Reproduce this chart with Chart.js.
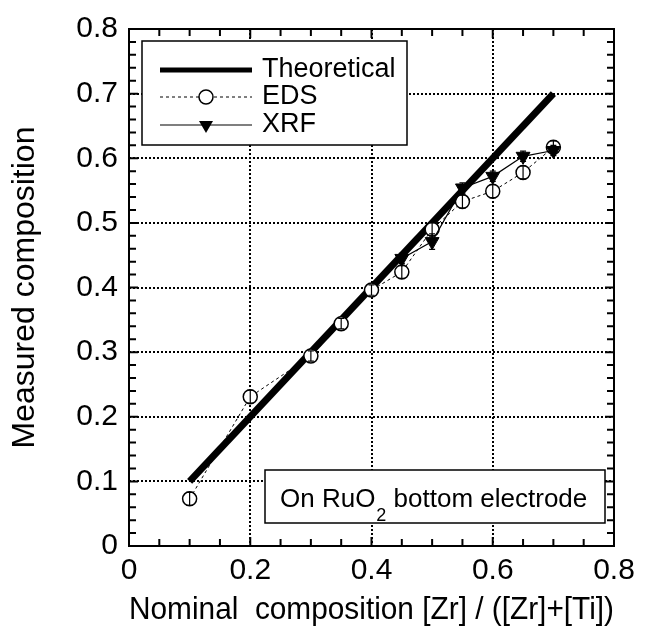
<!DOCTYPE html>
<html>
<head>
<meta charset="utf-8">
<script src="https://cdn.jsdelivr.net/npm/chart.js@4.4.1/dist/chart.umd.min.js"></script>
<style>
  html, body { margin: 0; padding: 0; background: #fff; }
</style>
</head>
<body>
<canvas id="comp-chart" width="649" height="626"></canvas>
<script>
// 公称組成 (x) と測定組成 (y)
const edsX = [0.1, 0.2, 0.3, 0.35, 0.4, 0.45, 0.5, 0.55, 0.6, 0.65, 0.7];
const edsY = [0.073, 0.231, 0.294, 0.344, 0.396, 0.424, 0.490, 0.533, 0.549, 0.578, 0.617];
const edsErr = [0.010, 0.010, 0.008, 0.008, 0.008, 0.010, 0.010, 0.010, 0.010, 0.010, 0.010];

const xrfX = [0.45, 0.5, 0.55, 0.6, 0.65, 0.7];
const xrfY = [0.445, 0.471, 0.554, 0.572, 0.603, 0.612];
const xrfErr = [0.008, 0.012, 0.008, 0.008, 0.008, 0.008];

const theoryX = [0.1, 0.7];
const theoryY = [0.1, 0.7];

const xTickValues = [0, 0.2, 0.4, 0.6, 0.8];
const xTickLabels = ['0', '0.2', '0.4', '0.6', '0.8'];
const yTickValues = [0, 0.1, 0.2, 0.3, 0.4, 0.5, 0.6, 0.7, 0.8];
const yTickLabels = ['0', '0.1', '0.2', '0.3', '0.4', '0.5', '0.6', '0.7', '0.8'];

const FONT = "'Liberation Sans', Arial, sans-serif";

function toPoints(xs, ys) {
    return xs.map((x, i) => ({ x: x, y: ys[i] }));
}

// 背景を白で塗る
const bgPlugin = {
    id: 'bg',
    beforeDraw(chart) {
        const ctx = chart.ctx;
        ctx.save();
        ctx.fillStyle = '#fff';
        ctx.fillRect(0, 0, chart.width, chart.height);
        ctx.restore();
    }
};

// 誤差棒
const errorBarPlugin = {
    id: 'errorBars',
    afterDatasetsDraw(chart) {
        const { ctx, scales: { x, y } } = chart;
        ctx.save();
        ctx.strokeStyle = '#000';
        ctx.lineWidth = 1.2;
        const draw = (xs, ys, errs) => {
            ctx.beginPath();
            xs.forEach((v, i) => {
                const px = x.getPixelForValue(v);
                const top = y.getPixelForValue(ys[i] + errs[i]);
                const bot = y.getPixelForValue(ys[i] - errs[i]);
                ctx.moveTo(px, top); ctx.lineTo(px, bot);
                ctx.moveTo(px - 3, top); ctx.lineTo(px + 3, top);
                ctx.moveTo(px - 3, bot); ctx.lineTo(px + 3, bot);
            });
            ctx.stroke();
        };
        draw(edsX, edsY, edsErr);
        draw(xrfX, xrfY, xrfErr);
        ctx.restore();
    }
};

// 枠線と内向きの目盛り、凡例、注記
const framePlugin = {
    id: 'frame',
    afterDraw(chart) {
        const { ctx, chartArea: a, scales: { x, y } } = chart;
        ctx.save();
        ctx.strokeStyle = '#000';
        ctx.lineWidth = 2;
        ctx.strokeRect(a.left, a.top, a.right - a.left, a.bottom - a.top);

        ctx.beginPath();
        for (let i = 0; i <= 16; i++) {
            const px = x.getPixelForValue(i * 0.05);
            const len = i % 4 === 0 ? 9 : 7;
            ctx.moveTo(px, a.bottom); ctx.lineTo(px, a.bottom - len);
            ctx.moveTo(px, a.top); ctx.lineTo(px, a.top + len);
        }
        for (let i = 0; i <= 40; i++) {
            const py = y.getPixelForValue(i * 0.02);
            const len = i % 5 === 0 ? 9 : 7;
            ctx.moveTo(a.left, py); ctx.lineTo(a.left + len, py);
            ctx.moveTo(a.right, py); ctx.lineTo(a.right - len, py);
        }
        ctx.stroke();

        // 凡例
        ctx.fillStyle = '#fff';
        ctx.fillRect(142, 41, 265, 104);
        ctx.lineWidth = 1.5;
        ctx.strokeRect(142, 41, 265, 104);

        ctx.fillStyle = '#000';
        ctx.font = '27px ' + FONT;
        ctx.textBaseline = 'middle';
        ctx.textAlign = 'left';

        ctx.lineWidth = 5;
        ctx.beginPath(); ctx.moveTo(160, 70); ctx.lineTo(252, 70); ctx.stroke();
        ctx.fillText('Theoretical', 262, 70);

        ctx.lineWidth = 1;
        ctx.setLineDash([3, 3]);
        ctx.beginPath(); ctx.moveTo(160, 97); ctx.lineTo(252, 97); ctx.stroke();
        ctx.setLineDash([]);
        ctx.lineWidth = 1.5;
        ctx.fillStyle = '#fff';
        ctx.beginPath(); ctx.arc(206, 97, 7, 0, Math.PI * 2); ctx.fill(); ctx.stroke();
        ctx.fillStyle = '#000';
        ctx.fillText('EDS', 262, 97);

        ctx.lineWidth = 1.2;
        ctx.beginPath(); ctx.moveTo(160, 125); ctx.lineTo(252, 125); ctx.stroke();
        ctx.beginPath();
        ctx.moveTo(206 - 7, 121); ctx.lineTo(206 + 7, 121); ctx.lineTo(206, 133);
        ctx.closePath(); ctx.fill();
        ctx.fillText('XRF', 262, 125);

        // 注記
        ctx.fillStyle = '#fff';
        ctx.fillRect(265, 470, 340, 53);
        ctx.lineWidth = 1.5;
        ctx.strokeRect(265, 470, 340, 53);
        ctx.fillStyle = '#000';
        ctx.textBaseline = 'alphabetic';
        ctx.font = '26px ' + FONT;
        let tx = 280;
        ctx.fillText('On RuO', tx, 507);
        tx += ctx.measureText('On RuO').width + 1;
        ctx.font = '18px ' + FONT;
        ctx.fillText('2', tx, 521);
        tx += ctx.measureText('2').width;
        ctx.font = '26px ' + FONT;
        ctx.fillText(' bottom electrode', tx, 507);
        ctx.restore();
    }
};

const tickFont = { family: FONT, size: 30, lineHeight: 1.2 };
const titleFont = { family: FONT, size: 32, lineHeight: 1 };

const chart = new Chart(document.getElementById('comp-chart'), {
    type: 'scatter',
    data: {
        datasets: [
            {
                label: 'Theoretical',
                data: toPoints(theoryX, theoryY),
                showLine: true,
                borderColor: '#000',
                borderWidth: 7,
                pointRadius: 0,
                order: 2
            },
            {
                label: 'EDS',
                data: toPoints(edsX, edsY),
                showLine: true,
                borderColor: '#000',
                borderWidth: 1,
                borderDash: [3, 3],
                pointStyle: 'circle',
                pointRadius: 7,
                pointBorderWidth: 1.5,
                pointBorderColor: '#000',
                pointBackgroundColor: '#fff',
                order: 1
            },
            {
                label: 'XRF',
                data: toPoints(xrfX, xrfY),
                showLine: true,
                borderColor: '#000',
                borderWidth: 1.2,
                pointStyle: 'triangle',
                pointRotation: 180,
                pointRadius: 8,
                pointBorderWidth: 1,
                pointBorderColor: '#000',
                pointBackgroundColor: '#000',
                order: 0
            }
        ]
    },
    options: {
        responsive: false,
        devicePixelRatio: 1,
        animation: false,
        layout: { padding: { top: 26, right: 35, left: 0, bottom: 0 } },
        plugins: { legend: { display: false }, tooltip: { enabled: false } },
        scales: {
            x: {
                type: 'linear',
                min: 0, max: 0.8,
                afterBuildTicks: s => { s.ticks = xTickValues.map(v => ({ value: v })); },
                afterFit: s => { s.height = 80; },
                grid: { color: '#000', lineWidth: 2, drawTicks: false },
                border: { display: false, dash: [2, 2] },
                ticks: {
                    color: '#000', font: tickFont, padding: 7,
                    maxRotation: 0, autoSkip: false,
                    callback: (v, i) => xTickLabels[i]
                },
                title: {
                    display: true,
                    text: 'Nominal  composition [Zr] / ([Zr]+[Ti])',
                    color: '#000', font: titleFont,
                    padding: { top: 0, bottom: 0 }
                }
            },
            y: {
                type: 'linear',
                min: 0, max: 0.8,
                afterBuildTicks: s => { s.ticks = yTickValues.map(v => ({ value: v })); },
                afterFit: s => { s.width = 129; },
                grid: { color: '#000', lineWidth: 2, drawTicks: false },
                border: { display: false, dash: [2, 2] },
                ticks: {
                    color: '#000', font: tickFont, padding: 11,
                    autoSkip: false,
                    callback: (v, i) => yTickLabels[i]
                },
                title: {
                    display: true,
                    text: 'Measured composition',
                    color: '#000', font: titleFont,
                    padding: { top: 9, bottom: 0 }
                }
            }
        }
    },
    plugins: [bgPlugin, errorBarPlugin, framePlugin]
});
</script>
</body>
</html>
